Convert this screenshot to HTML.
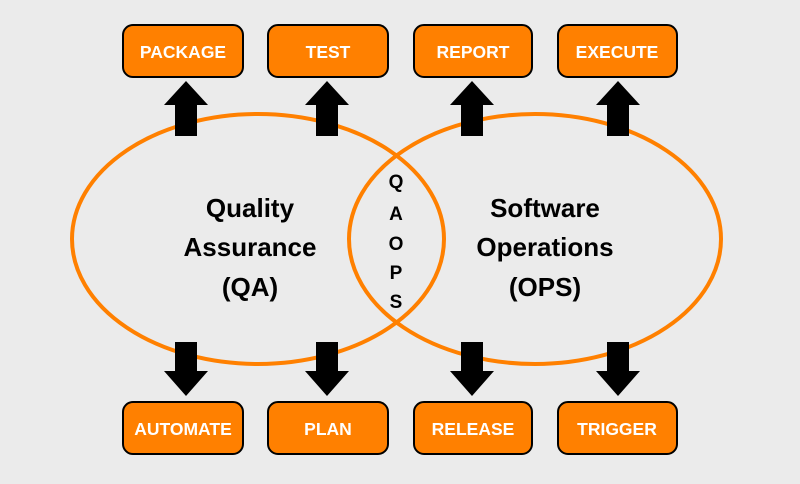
<!DOCTYPE html>
<html><head><style>
body{margin:0;width:800px;height:479px;background:#ebebeb;overflow:hidden;font-family:"Liberation Sans",sans-serif}
</style></head><body>
<svg width="800" height="479" viewBox="0 0 800 479" xmlns="http://www.w3.org/2000/svg" font-family="Liberation Sans, sans-serif" font-weight="bold">
<g fill="#ff8000" stroke="#000" stroke-width="2">
<rect x="123" y="25" width="120" height="52" rx="10"/>
<rect x="268" y="25" width="120" height="52" rx="10"/>
<rect x="414" y="25" width="118" height="52" rx="10"/>
<rect x="558" y="25" width="119" height="52" rx="10"/>
<rect x="123" y="402" width="120" height="52" rx="10"/>
<rect x="268" y="402" width="120" height="52" rx="10"/>
<rect x="414" y="402" width="118" height="52" rx="10"/>
<rect x="558" y="402" width="119" height="52" rx="10"/>
</g>
<g fill="#fff" font-size="17.5" text-anchor="middle">
<text x="183" y="58">PACKAGE</text>
<text x="328" y="58">TEST</text>
<text x="473" y="58">REPORT</text>
<text x="617" y="58">EXECUTE</text>
<text x="183" y="435">AUTOMATE</text>
<text x="328" y="435">PLAN</text>
<text x="473" y="435">RELEASE</text>
<text x="617" y="435">TRIGGER</text>
</g>
<g fill="none" stroke="#ff8000" stroke-width="4">
<ellipse cx="258" cy="239" rx="186" ry="125"/>
<ellipse cx="535" cy="239" rx="186" ry="125"/>
</g>
<g fill="#000">
<polygon points="186,81 208,105 197,105 197,136 175,136 175,105 164,105"/>
<polygon points="327,81 349,105 338,105 338,136 316,136 316,105 305,105"/>
<polygon points="472,81 494,105 483,105 483,136 461,136 461,105 450,105"/>
<polygon points="618,81 640,105 629,105 629,136 607,136 607,105 596,105"/>
<polygon points="186,396 208,371 197,371 197,342 175,342 175,371 164,371"/>
<polygon points="327,396 349,371 338,371 338,342 316,342 316,371 305,371"/>
<polygon points="472,396 494,371 483,371 483,342 461,342 461,371 450,371"/>
<polygon points="618,396 640,371 629,371 629,342 607,342 607,371 596,371"/>
</g>
<g fill="#000" font-size="26" text-anchor="middle">
<text x="250" y="217">Quality</text>
<text x="250" y="256">Assurance</text>
<text x="250" y="296">(QA)</text>
<text x="545" y="217">Software</text>
<text x="545" y="256">Operations</text>
<text x="545" y="296">(OPS)</text>
</g>
<g fill="#000" font-size="19" text-anchor="middle">
<text x="396" y="188">Q</text>
<text x="396" y="220">A</text>
<text x="396" y="250">O</text>
<text x="396" y="279">P</text>
<text x="396" y="308">S</text>
</g>
</svg>
</body></html>
